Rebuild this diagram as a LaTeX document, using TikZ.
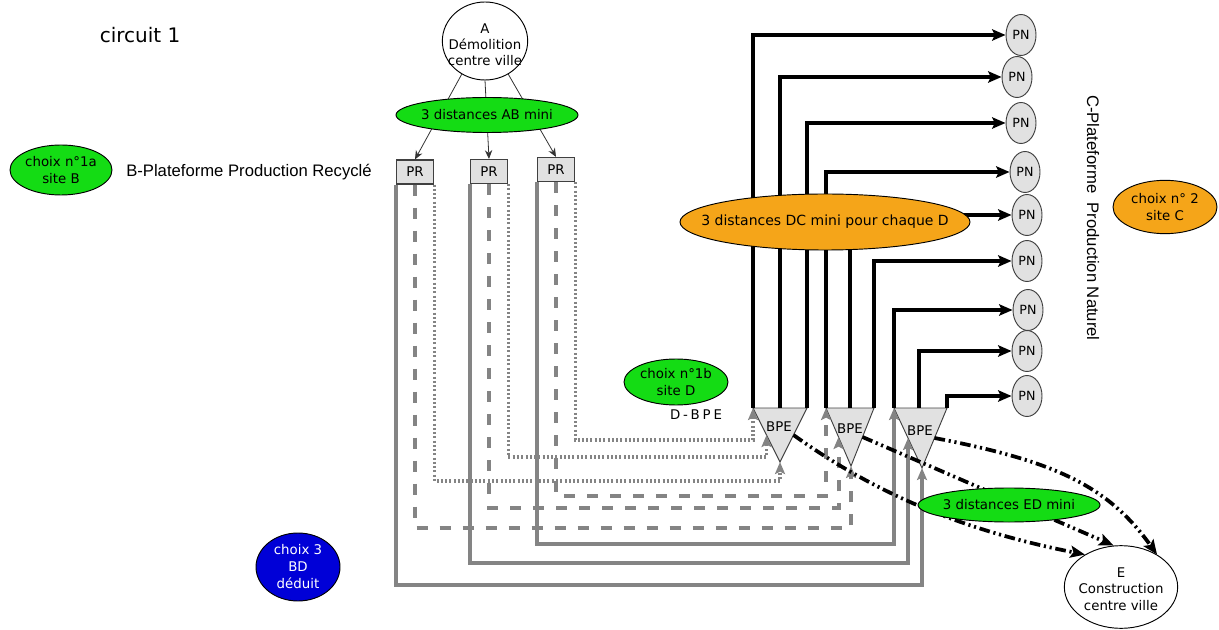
\documentclass[tikz,border=0pt]{standalone}
\usepackage{fontspec}
\setmainfont{DejaVu Sans}
\newfontfamily\arialf{Liberation Sans}
\usetikzlibrary{arrows.meta,shapes.geometric}
\definecolor{vgreen}{RGB}{20,220,20}
\definecolor{vorange}{RGB}{245,165,25}
\definecolor{vblue}{RGB}{0,0,215}
\definecolor{lgray}{RGB}{225,225,225}
\definecolor{mgray}{RGB}{132,132,132}
\begin{document}
\begin{tikzpicture}[x=0.75pt,y=-0.75pt,
  ellb/.style={ellipse, draw=black, line width=0.7pt, inner sep=0pt},
  txt/.style={align=center, inner sep=0pt, font=\fontsize{10}{12.5}\selectfont},
  prbox/.style={rectangle, draw=black!75, fill=lgray, line width=0.9pt, minimum width=28pt, minimum height=18pt, inner sep=0pt, font=\fontsize{10}{12}\selectfont},
  pn/.style={ellipse, draw=black!75, fill=lgray, line width=0.7pt, minimum width=22.5pt, minimum height=30.75pt, inner sep=0pt, font=\fontsize{9.5}{11}\selectfont},
  tri/.style={draw=black!75, fill=lgray, line width=0.7pt},
  blk/.style={black, line width=2.6pt, -{Stealth[length=10pt,width=8.5pt,inset=2pt]}},
  gsolid/.style={mgray, line width=3pt, -{Stealth[length=9pt,width=7.5pt,inset=1.8pt]}},
  gdash/.style={gsolid, dash pattern=on 8.25pt off 9pt},
  gdot/.style={gsolid, line width=2.4pt, dash pattern=on 1.5pt off 1.7pt},
  ddot/.style={black, line width=2.8pt, dash pattern=on 8pt off 2.8pt on 1.6pt off 2.8pt on 1.6pt off 2.8pt, -{Stealth[length=11pt,width=9pt,inset=2.2pt]}},
  thinarr/.style={black!80, line width=0.6pt, -{Stealth[length=6.5pt,width=5.5pt]}},
  bpelab/.style={inner sep=0pt, font=\fontsize{10}{12}\selectfont}
]
\useasboundingbox (0,0) rectangle (1219,630);

% --- left labels
\node[font=\fontsize{15}{17}\selectfont] (title) at (140,35) {circuit 1};
\node[ellb, fill=vgreen, minimum width=76.5pt, minimum height=37.5pt] (c1a) at (61,170) {};
\node[txt] (c1at) at (c1a) {choix n°1a\\site B};
\node[font=\arialf\fontsize{12.5}{14}\selectfont] (blab) at (249,172) {B-Plateforme Production Recyclé};

% --- A and PR
\node[ellb, fill=white, minimum width=64pt, minimum height=58.5pt] (A) at (485,41) {};
\node[txt, font=\fontsize{10}{12}\selectfont] (At) at (485,45) {A\\Démolition\\centre ville};
\node[prbox] (pr1) at (415,172) {PR};
\node[prbox] (pr2) at (489,171.5) {PR};
\node[prbox] (pr3) at (556,169.5) {PR};
\draw[thinarr] (A.235) -- (pr1.north);
\draw[thinarr] (A.south) -- (pr2.north);
\draw[thinarr] (A.305) -- (pr3.north);
\node[ellb, fill=vgreen, minimum width=136.5pt, minimum height=26.25pt] (ab) at (487,115) {};
\node[txt] (abt) at (ab) {3 distances AB mini};

% --- PN nodes
\node[pn] (pn1) at (1021,35) {PN};
\node[pn] (pn2) at (1017,77) {PN};
\node[pn] (pn3) at (1021,123) {PN};
\node[pn] (pn4) at (1025,172) {PN};
\node[pn] (pn5) at (1027,215) {PN};
\node[pn] (pn6) at (1027,261) {PN};
\node[pn] (pn7) at (1028,310) {PN};
\node[pn] (pn8) at (1027,351) {PN};
\node[pn] (pn9) at (1027,396) {PN};

% --- BPE triangles
\coordinate (b1l) at (753,408); \coordinate (b1m) at (780,408); \coordinate (b1r) at (807,408);
\coordinate (b1t) at (780,462); \coordinate (b1e) at (766.5,435); \coordinate (b1s) at (793.5,435);
\coordinate (b2l) at (826,408); \coordinate (b2m) at (850,408); \coordinate (b2r) at (874,408);
\coordinate (b2t) at (851,466); \coordinate (b2e) at (838.5,437); \coordinate (b2s) at (862.5,437);
\coordinate (b3l) at (894,408); \coordinate (b3m) at (919,408); \coordinate (b3r) at (947,408);
\coordinate (b3t) at (922,468); \coordinate (b3e) at (908,438); \coordinate (b3s) at (934.5,438);
\draw[tri] (b1l) -- (b1r) -- (b1t) -- cycle;
\draw[tri] (b2l) -- (b2r) -- (b2t) -- cycle;
\draw[tri] (b3l) -- (b3r) -- (b3t) -- cycle;
\node[bpelab] (bpe1) at (779,427) {BPE};
\node[bpelab] (bpe2) at (850,429) {BPE};
\node[bpelab] (bpe3) at (920,431) {BPE};

% --- black lines to PN
\draw[blk] (b1l) |- (pn1.west);
\draw[blk] (b1m) |- (pn2.west);
\draw[blk] (b1r) |- (pn3.west);
\draw[blk] (b2l) |- (pn4.west);
\draw[blk] (b2m) |- (pn5.west);
\draw[blk] (b2r) |- (pn6.west);
\draw[blk] (b3l) |- (pn7.west);
\draw[blk] (b3m) |- (pn8.west);
\draw[blk] (b3r) |- (pn9.west);
\node[ellb, fill=vorange, minimum width=217.5pt, minimum height=42pt] (dc) at (825,222) {};
\node[txt, font=\fontsize{10.5}{12.5}\selectfont] (dct) at (dc) {3 distances DC mini pour chaque D};

% --- gray paths PR -> BPE
\draw[gdot] (pr1.south east) |- (780,481) -- (b1t);
\draw[gdot] (pr2.south east) |- (766.5,457) -- (b1e);
\draw[gdot] (pr3.south east) |- (753,440) -- (b1l);
\draw[gdash] (pr1.south) |- (851,528) -- (b2t);
\draw[gdash] (pr2.south) |- (838.5,508) -- (b2e);
\draw[gdash] (pr3.south) |- (826,496) -- (b2l);
\draw[gsolid] (pr1.south west) |- (922,585) -- (b3t);
\draw[gsolid] (pr2.south west) |- (908,563) -- (b3e);
\draw[gsolid] (pr3.south west) |- (894,544) -- (b3l);

% --- other labels
\node[ellb, fill=vgreen, minimum width=78pt, minimum height=34.5pt] (c1b) at (676,382) {};
\node[txt] (c1bt) at (c1b) {choix n°1b\\site D};
\node[font=\fontsize{10}{12}\selectfont\addfontfeature{LetterSpace=22}] (dbpe) at (696,415) {D-BPE};
\node[ellb, fill=vorange, minimum width=78pt, minimum height=40pt] (c2) at (1165,207) {};
\node[txt] (c2t) at (c2) {choix n° 2\\site C};
\node[font=\arialf\fontsize{12.5}{14}\selectfont, rotate=-90] (clab) at (1093,218) {C-Plateforme\ \ Production Naturel};
\node[ellb, fill=vblue, minimum width=63pt, minimum height=51pt] (c3) at (298,567) {};
\node[txt, text=white, font=\fontsize{10}{12.75}\selectfont] (c3t) at (c3) {choix 3\\BD\\déduit};

% --- E and dash-dot arrows
\node[ellb, fill=white, minimum width=85pt, minimum height=62pt] (E) at (1121,587) {};
\node[txt, font=\fontsize{10}{12.5}\selectfont] (Et) at (1121,589) {E\\Construction\\centre ville};
\draw[ddot] (b1s) .. controls (873,492) and (960,530) .. (E.138);
\draw[ddot] (b2s) -- (E.100);
\draw[ddot] (b3s) .. controls (1055,461) and (1108,486) .. (E.42);
\node[ellb, fill=vgreen, minimum width=136.5pt, minimum height=25.5pt] (ed) at (1009,505) {};
\node[txt] (edt) at (ed) {3 distances ED mini};
\end{tikzpicture}
\end{document}
